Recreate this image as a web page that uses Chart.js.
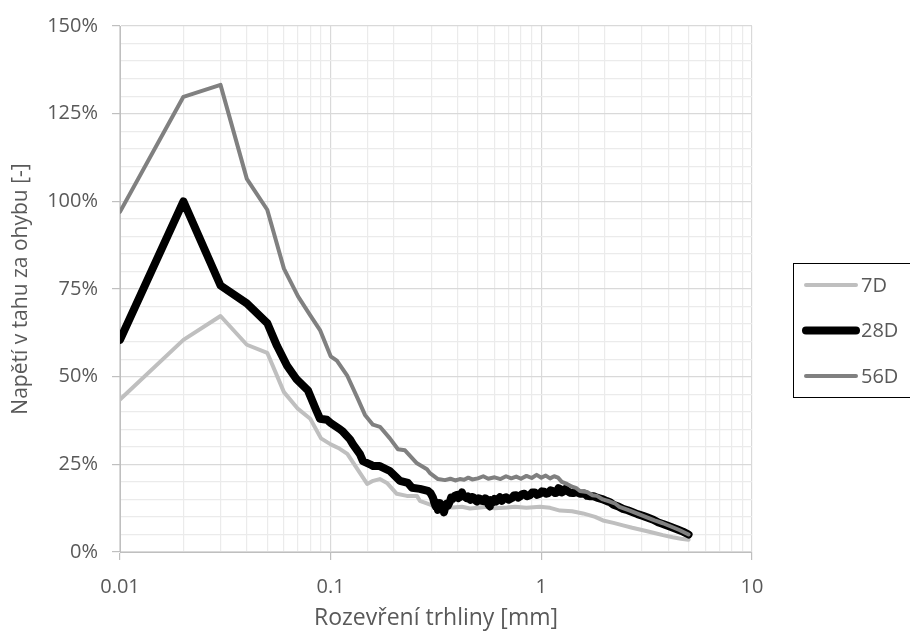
<!DOCTYPE html>
<html>
<head>
<meta charset="utf-8">
<script src="https://cdn.jsdelivr.net/npm/chart.js@4.4.0/dist/chart.umd.min.js"></script>
<style>
  html, body { margin: 0; padding: 0; background: #fff; }
  #wrap { width: 910px; height: 637px; }
</style>
</head>
<body>
<div id="wrap"><canvas id="chart" width="910" height="637"></canvas></div>
<script>
const FONT = "'Open Sans', 'Noto Sans', sans-serif";
const TEXT = "#595959";

// 7D
const x7 = [0.01, 0.02, 0.03, 0.04, 0.05, 0.06, 0.07, 0.08, 0.09, 0.1, 0.11, 0.12, 0.133, 0.149, 0.159, 0.171, 0.185, 0.206, 0.23, 0.257, 0.265, 0.306, 0.34, 0.38, 0.42, 0.458, 0.5, 0.552, 0.6, 0.687, 0.75, 0.85, 0.985, 1.1, 1.226, 1.4, 1.576, 1.8, 1.961, 2.2, 2.44, 2.7, 3.035, 3.4, 3.777, 4.2, 4.6, 5.0];
const y7 = [43.5, 60.5, 67.3, 59.1, 56.8, 45.6, 40.8, 38.0, 32.4, 30.7, 29.5, 28.0, 23.9, 19.4, 20.3, 20.8, 19.7, 16.6, 16.0, 16.0, 14.6, 13.2, 12.9, 12.7, 12.9, 12.4, 12.6, 12.9, 12.5, 12.7, 12.9, 12.6, 12.9, 12.6, 11.8, 11.6, 11.0, 10.0, 9.0, 8.3, 7.6, 6.9, 6.2, 5.5, 4.8, 4.2, 3.8, 3.5];

// 28D
const x28 = [0.01, 0.02, 0.03, 0.04, 0.05, 0.0556, 0.062, 0.069, 0.078, 0.086, 0.089, 0.096, 0.1, 0.1107, 0.1144, 0.1235, 0.1276, 0.1377, 0.1423, 0.1537, 0.159, 0.171, 0.191, 0.2133, 0.2328, 0.2432, 0.2653, 0.2896,
  0.298, 0.3059, 0.31, 0.315, 0.319, 0.323, 0.327, 0.33, 0.334, 0.337, 0.341, 0.345, 0.3487, 0.352, 0.355, 0.36, 0.3683, 0.373, 0.38, 0.388, 0.3976, 0.404, 0.41, 0.415, 0.42, 0.425, 0.43, 0.44, 0.4485, 0.455, 0.46, 0.468, 0.475, 0.485, 0.4948, 0.503, 0.51, 0.52, 0.53, 0.541, 0.552, 0.56, 0.57, 0.578, 0.5894, 0.6, 0.61, 0.62, 0.635, 0.65, 0.665, 0.68, 0.7, 0.7253, 0.74, 0.76, 0.775, 0.7914, 0.81, 0.83, 0.855, 0.8829, 0.905, 0.93, 0.955, 0.985, 1.005, 1.03, 1.055, 1.08, 1.105, 1.135, 1.16, 1.18, 1.205, 1.226, 1.25, 1.27, 1.295, 1.32, 1.365, 1.413, 1.47, 1.525, 1.6, 1.65, 1.701, 1.77, 1.836, 1.94, 2.048, 2.12, 2.2, 2.32, 2.44, 2.57, 2.7, 2.86, 3.035, 3.2, 3.4, 3.6, 3.777, 4.1, 4.4, 4.7, 5.0];
const y28 = [60.5, 100.0, 76.0, 70.9, 65.3, 58.8, 53.2, 49.2, 46.1, 40.0, 38.0, 37.7, 36.8, 35.0, 34.3, 32.1, 30.7, 27.9, 25.9, 25.0, 24.5, 24.5, 23.1, 20.3, 19.7, 18.3, 18.0, 17.4,
  16.8, 15.5, 14.2, 13.0, 14.1, 12.0, 13.2, 14.0, 13.1, 12.5, 12.9, 11.3, 12.4, 13.5, 13.8, 13.2, 14.4, 15.5, 15.2, 16.0, 16.3, 15.4, 15.6, 16.4, 17.0, 16.2, 16.0, 15.4, 15.8, 15.1, 14.9, 15.7, 15.6, 14.8, 14.4, 15.3, 15.2, 14.6, 14.5, 15.3, 15.0, 13.6, 13.0, 14.8, 14.2, 15.1, 14.4, 15.0, 15.6, 14.6, 15.4, 15.6, 14.9, 15.4, 16.1, 16.2, 15.5, 15.8, 16.5, 16.6, 15.9, 16.2, 17.0, 17.0, 16.3, 16.6, 17.3, 17.2, 16.6, 16.8, 17.6, 17.4, 16.8, 16.9, 18.2, 18.0, 17.0, 17.2, 17.9, 17.6, 16.9, 16.8, 17.1, 16.6, 16.7, 16.0, 15.9, 15.9, 15.5, 15.1, 14.5, 14.2, 13.5, 13.0, 12.3, 11.9, 11.4, 10.8, 10.3, 9.8, 9.2, 8.4, 8.0, 7.2, 6.5, 5.8, 5.0];

// 56D
const x56 = [0.01, 0.02, 0.03, 0.04, 0.05, 0.06, 0.07, 0.08, 0.089, 0.1, 0.107, 0.1196, 0.1348, 0.1455, 0.1587, 0.1714, 0.191, 0.2086, 0.2253, 0.2568, 0.2865, 0.296, 0.323, 0.3487, 0.37, 0.39, 0.41, 0.43, 0.45, 0.47, 0.5, 0.53, 0.56, 0.6, 0.64, 0.68, 0.72, 0.76, 0.8, 0.85, 0.9, 0.95, 1.0, 1.05, 1.1, 1.15, 1.2, 1.25, 1.323, 1.4, 1.46, 1.525, 1.65, 1.75, 1.836, 1.96, 2.116, 2.23, 2.35, 2.634, 2.9, 3.17, 3.45, 3.777, 4.15, 4.547, 5.0];
const y56 = [97.0, 129.8, 133.2, 106.4, 97.6, 80.8, 72.9, 67.5, 63.3, 55.8, 54.6, 50.4, 43.6, 39.1, 36.3, 35.7, 32.4, 29.3, 29.0, 25.3, 23.6, 22.5, 20.8, 20.5, 20.9, 20.4, 20.8, 20.6, 21.2, 20.7, 21.0, 21.6, 20.9, 21.3, 20.8, 21.6, 21.0, 21.5, 20.9, 21.7, 21.1, 22.0, 21.2, 21.8, 21.0, 21.6, 21.2, 20.0, 19.4, 18.6, 18.3, 17.4, 17.1, 16.2, 16.0, 15.0, 14.4, 13.9, 12.9, 11.8, 10.8, 9.9, 9.0, 8.2, 7.2, 6.2, 5.0];

const labels = ["7D", "28D", "56D"];
const colors = ["#bfbfbf", "#000000", "#808080"];
const widths = [4, 8, 4];

const xMajor = [0.01, 0.1, 1, 10];

function toPoints(xs, ys) {
  return xs.map((x, i) => ({ x, y: ys[i] }));
}

function isDecade(v) {
  const l = Math.log10(v);
  return Math.abs(l - Math.round(l)) < 1e-6;
}

// legend box on the right, built from the datasets
const legendBox = {
  id: "legendBox",
  afterDraw(chart) {
    const ctx = chart.ctx;
    ctx.save();
    ctx.strokeStyle = "#000";
    ctx.lineWidth = 1;
    ctx.strokeRect(793.5, 263.5, 140, 134);
    chart.data.datasets.forEach((ds, i) => {
      const y = 285 + i * 45.5;
      ctx.beginPath();
      ctx.moveTo(806, y);
      ctx.lineTo(856, y);
      ctx.strokeStyle = ds.borderColor;
      ctx.lineWidth = ds.borderWidth;
      ctx.lineCap = "round";
      ctx.stroke();
      ctx.fillStyle = TEXT;
      ctx.font = "20px " + FONT;
      ctx.textBaseline = "middle";
      ctx.fillText(ds.label, 861, y + 1);
    });
    ctx.restore();
  },
};

const series = [toPoints(x7, y7), toPoints(x28, y28), toPoints(x56, y56)];

new Chart(document.getElementById("chart"), {
  type: "line",
  data: {
    datasets: series.map((pts, i) => ({
      label: labels[i],
      data: pts,
      borderColor: colors[i],
      borderWidth: widths[i],
      borderJoinStyle: "round",
      borderCapStyle: "round",
      pointRadius: 0,
      tension: 0,
      fill: false,
      order: 3 - i,
    })),
  },
  options: {
    responsive: false,
    animation: false,
    devicePixelRatio: 1,
    layout: { padding: { top: 19, right: 158, left: 0, bottom: 0 } },
    plugins: {
      legend: { display: false },
      tooltip: { enabled: false },
    },
    scales: {
      x: {
        type: "logarithmic",
        position: "bottom",
        min: 0.01,
        max: 10,
        afterFit: (s) => { s.height = 85; },
        border: { color: "#bfbfbf", width: 1 },
        grid: {
          color: (c) => (c.tick && isDecade(c.tick.value) ? "#d9d9d9" : "#ebebeb"),
          tickColor: (c) => (c.tick && isDecade(c.tick.value) ? "#bfbfbf" : "rgba(0,0,0,0)"),
          tickLength: 8,
          lineWidth: 1.2,
        },
        ticks: {
          autoSkip: false,
          maxRotation: 0,
          padding: 15,
          color: TEXT,
          font: { family: FONT, size: 20 },
          callback: (v) => (isDecade(v) ? String(xMajor.find((m) => Math.abs(m - v) < 1e-9) ?? v) : ""),
        },
        title: {
          display: true,
          text: "Rozevření trhliny [mm]",
          color: TEXT,
          font: { family: FONT, size: 23 },
          padding: { top: 0, bottom: 5 },
        },
      },
      y: {
        type: "linear",
        min: 0,
        max: 150,
        afterFit: (s) => { s.width = 120; },
        border: { color: "#bfbfbf", width: 1 },
        grid: {
          color: (c) => (c.tick && c.tick.value % 25 === 0 ? "#d9d9d9" : "#ebebeb"),
          tickColor: (c) => (c.tick && c.tick.value % 25 === 0 ? "#bfbfbf" : "rgba(0,0,0,0)"),
          tickLength: 8,
          lineWidth: 1.2,
        },
        ticks: {
          stepSize: 5,
          autoSkip: false,
          padding: 14,
          color: TEXT,
          font: { family: FONT, size: 20 },
          callback: (v) => (v % 25 === 0 ? v + "%" : ""),
        },
        title: {
          display: true,
          text: "Napětí v tahu za ohybu [-]",
          color: TEXT,
          font: { family: FONT, size: 21 },
          padding: { top: 8, bottom: 0 },
        },
      },
    },
  },
  plugins: [legendBox],
});
</script>
</body>
</html>
